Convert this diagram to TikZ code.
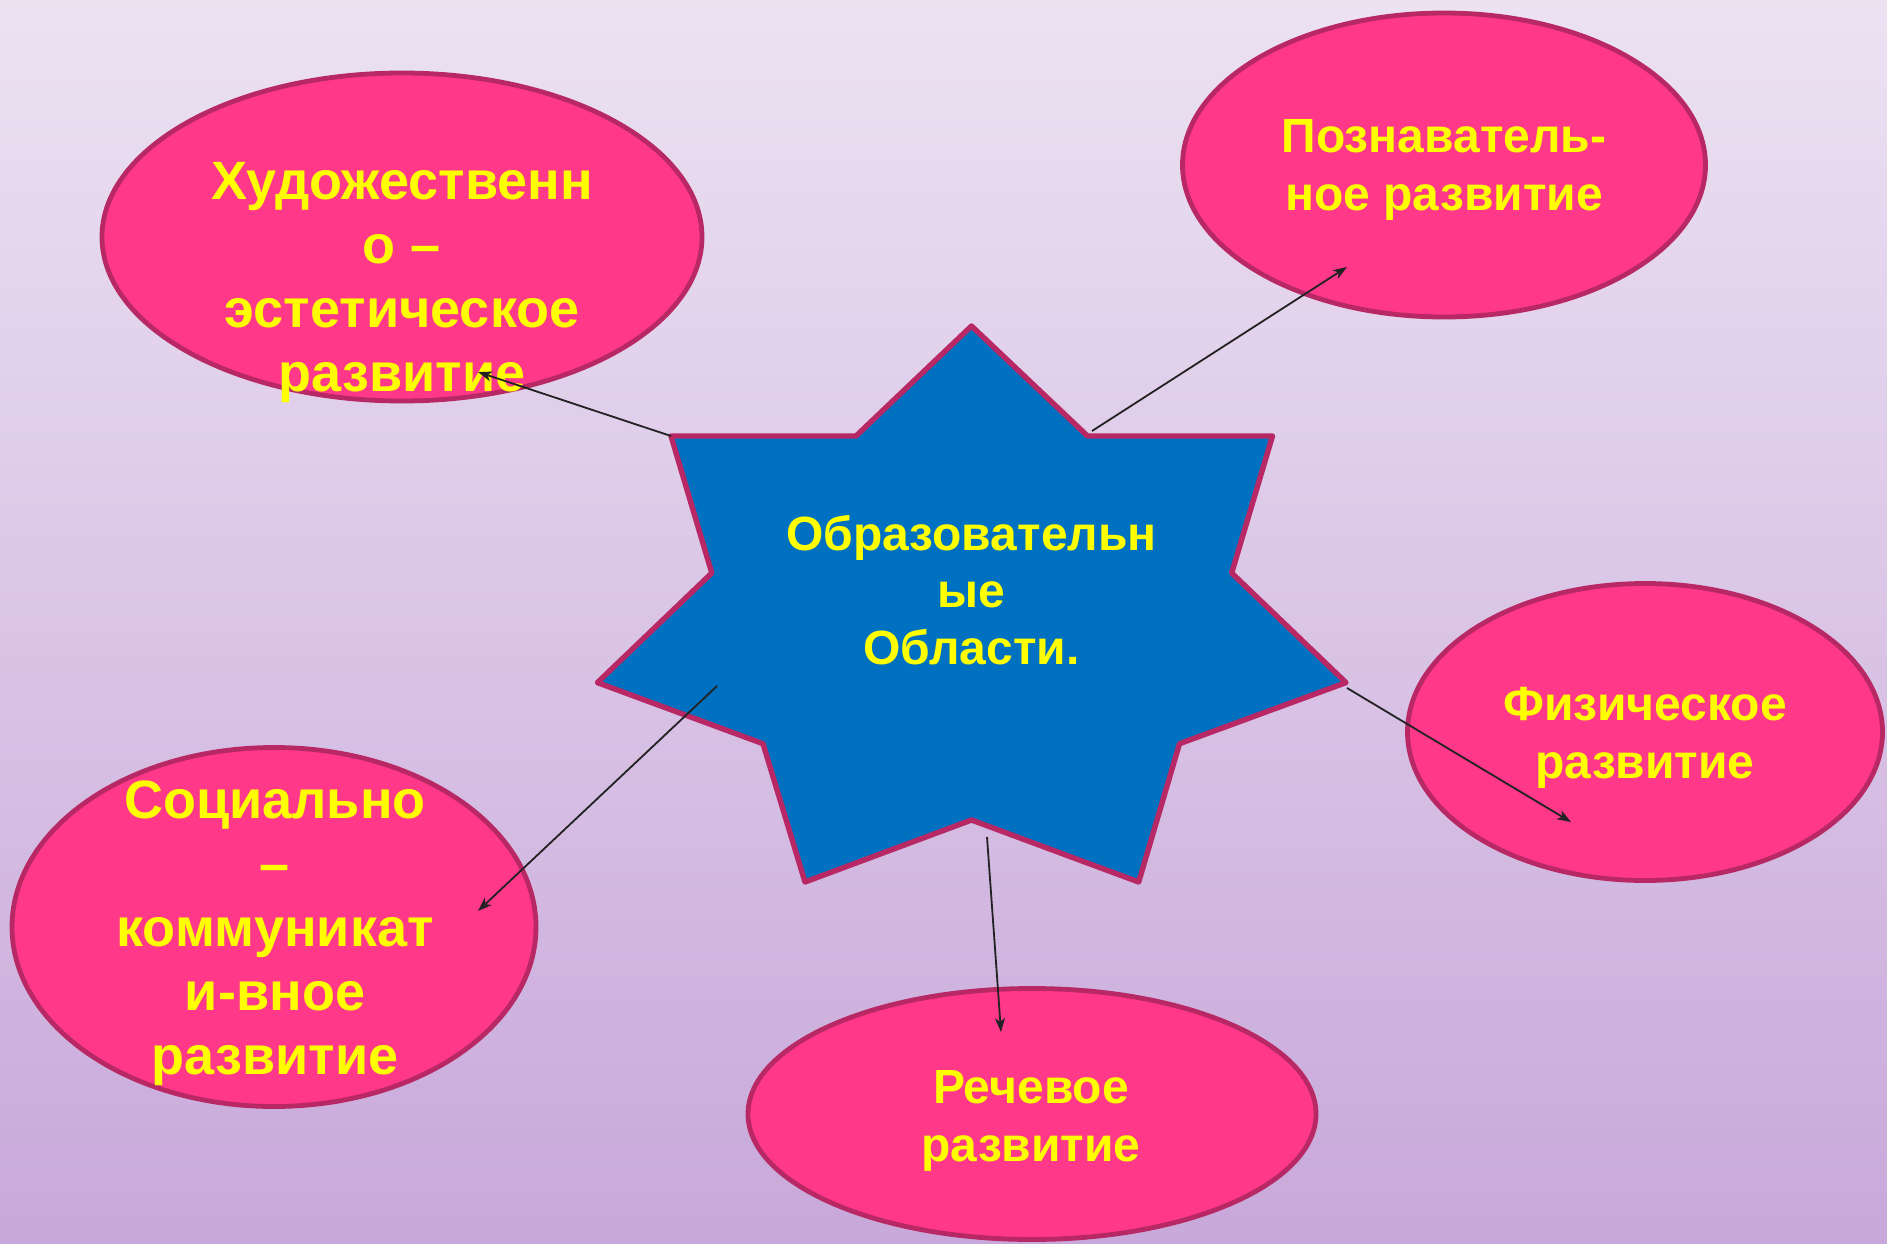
\documentclass[tikz,border=0pt]{standalone}
\usepackage{fontspec}
\setmainfont{Liberation Sans}
\usetikzlibrary{shapes.geometric,arrows.meta}
\definecolor{bgtop}{RGB}{236,226,242}
\definecolor{bgbot}{RGB}{200,168,218}
\definecolor{pinkfill}{RGB}{255,56,137}
\definecolor{rim}{RGB}{184,40,100}
\definecolor{starblue}{RGB}{0,112,192}
\definecolor{txtyellow}{RGB}{255,255,0}
\definecolor{linkcol}{RGB}{34,34,34}
\begin{document}
\begin{tikzpicture}[x=1pt,y=-1pt,
  oval/.style={ellipse, draw=rim, fill=pinkfill, line width=4.8pt, inner sep=0pt},
  bigtxt/.style={text=txtyellow, inner sep=0pt, anchor=base, font=\fontsize{54}{64}\selectfont\bfseries},
  midtxt/.style={text=txtyellow, inner sep=0pt, anchor=base, font=\fontsize{48}{58}\selectfont\bfseries},
  startxt/.style={text=txtyellow, inner sep=0pt, anchor=base, font=\fontsize{48}{57}\selectfont\bfseries},
  link/.style={draw=linkcol, line width=1.8pt, -{Stealth[length=14pt,width=10pt,inset=4pt]}}]
\useasboundingbox (0,0) rectangle (1887,1244);
\shade[top color=bgtop, bottom color=bgbot] (0,0) rectangle (1887,1244);

% ovals
\node[oval, minimum width=600pt, minimum height=328pt] (art) at (402,237) {};
\node[oval, minimum width=523pt, minimum height=304pt] (cog) at (1444,165) {};
\node[oval, minimum width=475pt, minimum height=297pt] (phys) at (1645,732) {};
\node[oval, minimum width=568pt, minimum height=251pt] (speech) at (1032,1114) {};
\node[oval, minimum width=524pt, minimum height=359pt] (soc) at (274,927) {};

% star
\coordinate (sTop) at (971.5,326);
\coordinate (iTR) at (1087.5,436);
\coordinate (sUR) at (1272.5,436);
\coordinate (iR) at (1231.7,573);
\coordinate (sR) at (1346,682.6);
\coordinate (iLR) at (1179.5,743.7);
\coordinate (sLR) at (1138.7,882);
\coordinate (iB) at (971.5,820);
\coordinate (sLL) at (805,882);
\coordinate (iLL) at (763,743.7);
\coordinate (sL) at (597.4,682.6);
\coordinate (iL) at (711.8,573);
\coordinate (sUL) at (671,436);
\coordinate (iTL) at (856,436);
\draw[draw=rim, fill=starblue, line width=5.4pt, line join=round]
  (sTop) -- (iTR) -- (sUR) -- (iR) -- (sR) -- (iLR) -- (sLR) -- (iB) --
  (sLL) -- (iLL) -- (sL) -- (iL) -- (sUL) -- (iTL) -- cycle;

% texts
\node[startxt] (center) at (971.5,550.7) {\begin{tabular}[t]{@{}c@{}}Образовательн\\ые\\Области.\end{tabular}};
\node[bigtxt] (tart) at (402,199) {\begin{tabular}[t]{@{}c@{}}Художественн\\о –\\эстетическое\\развитие\end{tabular}};
\node[midtxt] (tcog) at (1444,153) {\begin{tabular}[t]{@{}c@{}}Познаватель-\\ное развитие\end{tabular}};
\node[midtxt] (tphys) at (1645,720) {\begin{tabular}[t]{@{}c@{}}Физическое\\развитие\end{tabular}};
\node[midtxt] (tspeech) at (1031,1103) {\begin{tabular}[t]{@{}c@{}}Речевое\\развитие\end{tabular}};
\node[bigtxt] (tsoc) at (275,818) {\begin{tabular}[t]{@{}c@{}}Социально\\–\\коммуникат\\и-вное\\развитие\end{tabular}};

% connector ends
\coordinate (aEnd) at (478,372);
\coordinate (bStart) at (1092,431);
\coordinate (bEnd) at (1347,267);
\coordinate (cStart) at (1347,688);
\coordinate (cEnd) at (1571,822);
\coordinate (dStart) at (987,837);
\coordinate (dEnd) at (1001,1032);
\coordinate (eStart) at (717,686);
\coordinate (eEnd) at (478,911);

\draw[link] (sUL) -- (aEnd);
\draw[link] (bStart) -- (bEnd);
\draw[link] (cStart) -- (cEnd);
\draw[link] (dStart) -- (dEnd);
\draw[link] (eStart) -- (eEnd);
\end{tikzpicture}
\end{document}
